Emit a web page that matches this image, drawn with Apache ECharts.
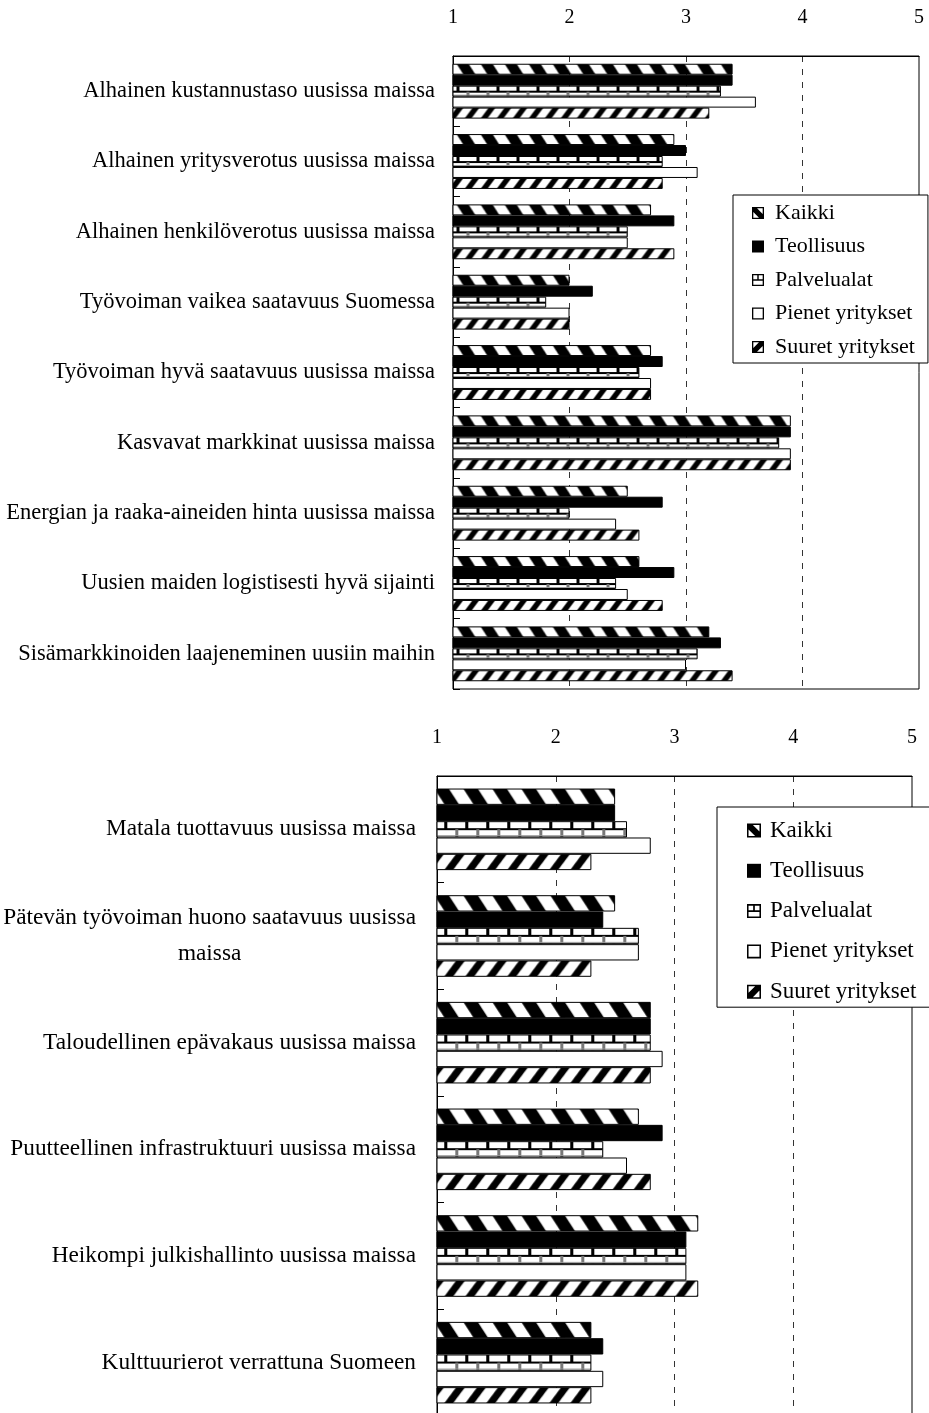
<!DOCTYPE html>
<html><head><meta charset="utf-8">
<script src="https://cdn.jsdelivr.net/npm/echarts@6/dist/echarts.min.js"></script>
<style>html,body{margin:0;padding:0;background:#fff}#c{width:929px;height:1413px}</style>
</head><body><div id="c"></div>
<script>
const seriesNames = ['Kaikki', 'Teollisuus', 'Palvelualat', 'Pienet yritykset', 'Suuret yritykset'];
const tickLabels = ['1', '2', '3', '4', '5'];

const categoriesTop = [
  'Alhainen kustannustaso uusissa maissa',
  'Alhainen yritysverotus uusissa maissa',
  'Alhainen henkilöverotus uusissa maissa',
  'Työvoiman vaikea saatavuus Suomessa',
  'Työvoiman hyvä saatavuus uusissa maissa',
  'Kasvavat markkinat uusissa maissa',
  'Energian ja raaka-aineiden hinta uusissa maissa',
  'Uusien maiden logistisesti hyvä sijainti',
  'Sisämarkkinoiden laajeneminen uusiin maihin'
];
const kaikkiTop      = [3.4, 2.9, 2.7, 2.0, 2.7, 3.9, 2.5, 2.6, 3.2];
const teollisuusTop  = [3.4, 3.0, 2.9, 2.2, 2.8, 3.9, 2.8, 2.9, 3.3];
const palvelualatTop = [3.3, 2.8, 2.5, 1.8, 2.6, 3.8, 2.0, 2.4, 3.1];
const pienetTop      = [3.6, 3.1, 2.5, 2.0, 2.7, 3.9, 2.4, 2.5, 3.0];
const suuretTop      = [3.2, 2.8, 2.9, 2.0, 2.7, 3.9, 2.6, 2.8, 3.4];

const categoriesBottom = [
  'Matala tuottavuus uusissa maissa',
  'Pätevän työvoiman huono saatavuus uusissa\nmaissa',
  'Taloudellinen epävakaus uusissa maissa',
  'Puutteellinen infrastruktuuri uusissa maissa',
  'Heikompi julkishallinto uusissa maissa',
  'Kulttuurierot verrattuna Suomeen'
];
const kaikkiBottom      = [2.5, 2.5, 2.8, 2.7, 3.2, 2.3];
const teollisuusBottom  = [2.5, 2.4, 2.8, 2.9, 3.1, 2.4];
const palvelualatBottom = [2.6, 2.7, 2.8, 2.4, 3.1, 2.3];
const pienetBottom      = [2.8, 2.7, 2.9, 2.6, 3.1, 2.4];
const suuretBottom      = [2.3, 2.3, 2.8, 2.8, 3.2, 2.3];

const SERIF = '"Liberation Serif", "DejaVu Serif", serif';

// ---------- pattern tiles ----------
function tile(w, h, draw) {
  const c = document.createElement('canvas');
  c.width = w; c.height = h;
  const g = c.getContext('2d');
  g.fillStyle = '#fff'; g.fillRect(0, 0, w, h);
  g.fillStyle = '#000';
  draw(g, w, h);
  return c;
}
function backStripe(h, period) { // "\" stripes
  return tile(period, h, (g, w, hh) => {
    const s = hh * 0.65, bw = period * 0.5;
    for (let k = -2; k <= 1; k++) {
      const x0 = k * period;
      g.beginPath(); g.moveTo(x0, 0); g.lineTo(x0 + bw, 0);
      g.lineTo(x0 + bw + s, hh); g.lineTo(x0 + s, hh); g.closePath(); g.fill();
    }
  });
}
function fwdStripe(h, period) { // "/" stripes
  return tile(period, h, (g, w, hh) => {
    const s = hh * 0.75, bw = period * 0.42;
    for (let k = -1; k <= 2; k++) {
      const x0 = k * period;
      g.beginPath(); g.moveTo(x0 + s, 0); g.lineTo(x0 + s + bw, 0);
      g.lineTo(x0 + bw, hh); g.lineTo(x0, hh); g.closePath(); g.fill();
    }
  });
}
function brick(h, period) {
  return tile(period, h, (g, w, hh) => {
    const m = Math.round(hh / 2);
    g.fillStyle = '#000';
    g.fillRect(0, m - 1, w, 2);
    g.fillRect(0, 0, 3, m);
    g.fillStyle = '#777';
    g.fillRect(Math.round(w / 2), m, 3, hh - m);
    g.fillStyle = '#999';
    g.fillRect(0, hh - 2, w, 1);
  });
}
function whiteTile(h) { return tile(4, h, () => {}); }
function blackTile(h) { return tile(4, h, (g, w, hh) => g.fillRect(0, 0, w, hh)); }

// legend icons (paths on 0..100 box)
const FRAME = 'M0 0H100V100H0Z M11 11V89H89V11Z ';
const legendIcons = [
  'path://' + FRAME + 'M11 11L42 11L89 58L89 89L58 89L11 42Z',
  'path://M0 0H100V100H0Z',
  'path://' + FRAME + 'M11 44H89V56H11Z M44 11H56V44H44Z',
  'path://' + FRAME,
  'path://' + FRAME + 'M11 89L11 58L58 11L89 11L89 42L42 89Z'
];

const topData = [kaikkiTop, teollisuusTop, palvelualatTop, pienetTop, suuretTop];
const bottomData = [kaikkiBottom, teollisuusBottom, palvelualatBottom, pienetBottom, suuretBottom];
const baseFill = ['#000', '#000', '#fff', '#fff', '#000'];

function labelFmt(v) {
  return v.split('\n').map(s => '{c|' + s + '}').join('\n');
}

function makeXAxis(gridIndex, size) {
  return {
    type: 'value', gridIndex, position: 'top', min: 1, max: 5, interval: 1,
    axisLine: { show: true, lineStyle: { color: '#000', width: 1 } },
    axisTick: { show: false },
    axisLabel: { margin: 28, color: '#000', fontFamily: SERIF, fontSize: size,
      formatter: v => tickLabels[Math.round(v) - 1] },
    splitLine: { show: true, showMinLine: false, showMaxLine: false,
      lineStyle: { color: '#333', width: 1, type: [6, 7] } }
  };
}
function makeYAxis(gridIndex, cats, size, margin) {
  return {
    type: 'category', gridIndex, data: cats, inverse: true,
    axisLine: { show: true, lineStyle: { color: '#000', width: 1 } },
    axisTick: { show: true, inside: true, length: 7, lineStyle: { color: '#000' } },
    axisLabel: { interval: 0, margin, color: '#000', fontFamily: SERIF, fontSize: size,
      formatter: labelFmt,
      rich: { c: { align: 'center', fontFamily: SERIF, fontSize: size, color: '#000', lineHeight: 36 } } },
    splitLine: { show: false }
  };
}
function makeLegend(opt) {
  return Object.assign({
    orient: 'vertical', selectedMode: false, backgroundColor: '#fff',
    borderColor: '#000', borderWidth: 1, borderRadius: 0,
    data: seriesNames.map((n, i) => ({ name: n, icon: legendIcons[i],
      itemStyle: { color: '#000', borderWidth: 0 } }))
  }, opt);
}

const series = [];
seriesNames.forEach((n, i) => {
  series.push({ name: n, type: 'bar', xAxisIndex: 0, yAxisIndex: 0, data: topData[i],
    barGap: 0, barCategoryGap: '22%',
    itemStyle: { color: baseFill[i], borderColor: '#000', borderWidth: 1 } });
});
seriesNames.forEach((n, i) => {
  series.push({ name: n, type: 'bar', xAxisIndex: 1, yAxisIndex: 1, data: bottomData[i],
    barGap: 0, barCategoryGap: '23.5%',
    itemStyle: { color: baseFill[i], borderColor: '#000', borderWidth: 1 } });
});

const option = {
  animation: false,
  backgroundColor: '#fff',
  grid: [
    { left: 453, top: 56, width: 466, height: 633, show: true, borderColor: '#000', borderWidth: 1, containLabel: false, outerBoundsMode: 'none' },
    { left: 437, top: 776, width: 475, height: 640, show: true, borderColor: '#000', borderWidth: 1, containLabel: false, outerBoundsMode: 'none' }
  ],
  xAxis: [makeXAxis(0, 20), makeXAxis(1, 20)],
  yAxis: [makeYAxis(0, categoriesTop, 22.5, 18), makeYAxis(1, categoriesBottom, 23.3, 21)],
  legend: [
    makeLegend({ left: 733, top: 195, padding: [7, 13, 5, 19], itemGap: 11.5, itemWidth: 12, itemHeight: 12,
      textStyle: { fontFamily: SERIF, fontSize: 22, color: '#000', padding: [0, 0, 0, 6] } }),
    makeLegend({ left: 717, top: 807, padding: [12, 15, 4, 30], itemGap: 17.3, itemWidth: 14, itemHeight: 14,
      textStyle: { fontFamily: SERIF, fontSize: 23, color: '#000', padding: [0, 0, 0, 4] } })
  ],
  series
};

const chart = echarts.init(document.getElementById('c'), null, { renderer: 'canvas' });
chart.setOption(option);

// second pass: anchor the fill patterns to each bar as laid out by ECharts
const model = chart.getModel();
const update = [];
for (let si = 0; si < series.length; si++) {
  const k = si % 5;
  const isTop = si < 5;
  const sd = model.getSeriesByIndex(si).getData();
  const vals = series[si].data;
  const items = vals.map((v, j) => {
    const L = sd.getItemLayout(j);
    const top = Math.min(L.y, L.y + L.height);
    const left = Math.min(L.x, L.x + L.width);
    const h = Math.max(1, Math.round(Math.abs(L.height)));
    let img;
    if (k === 0) img = backStripe(h, isTop ? 24 : 29);
    else if (k === 1) img = blackTile(h);
    else if (k === 2) img = brick(h, isTop ? 20 : 21);
    else if (k === 3) img = whiteTile(h);
    else img = fwdStripe(h, isTop ? 16 : 21);
    return { value: v, itemStyle: { color: { image: img, repeat: 'repeat', x: left, y: top } } };
  });
  update.push({ data: items });
}
chart.setOption({ series: update });
</script>
</body></html>
